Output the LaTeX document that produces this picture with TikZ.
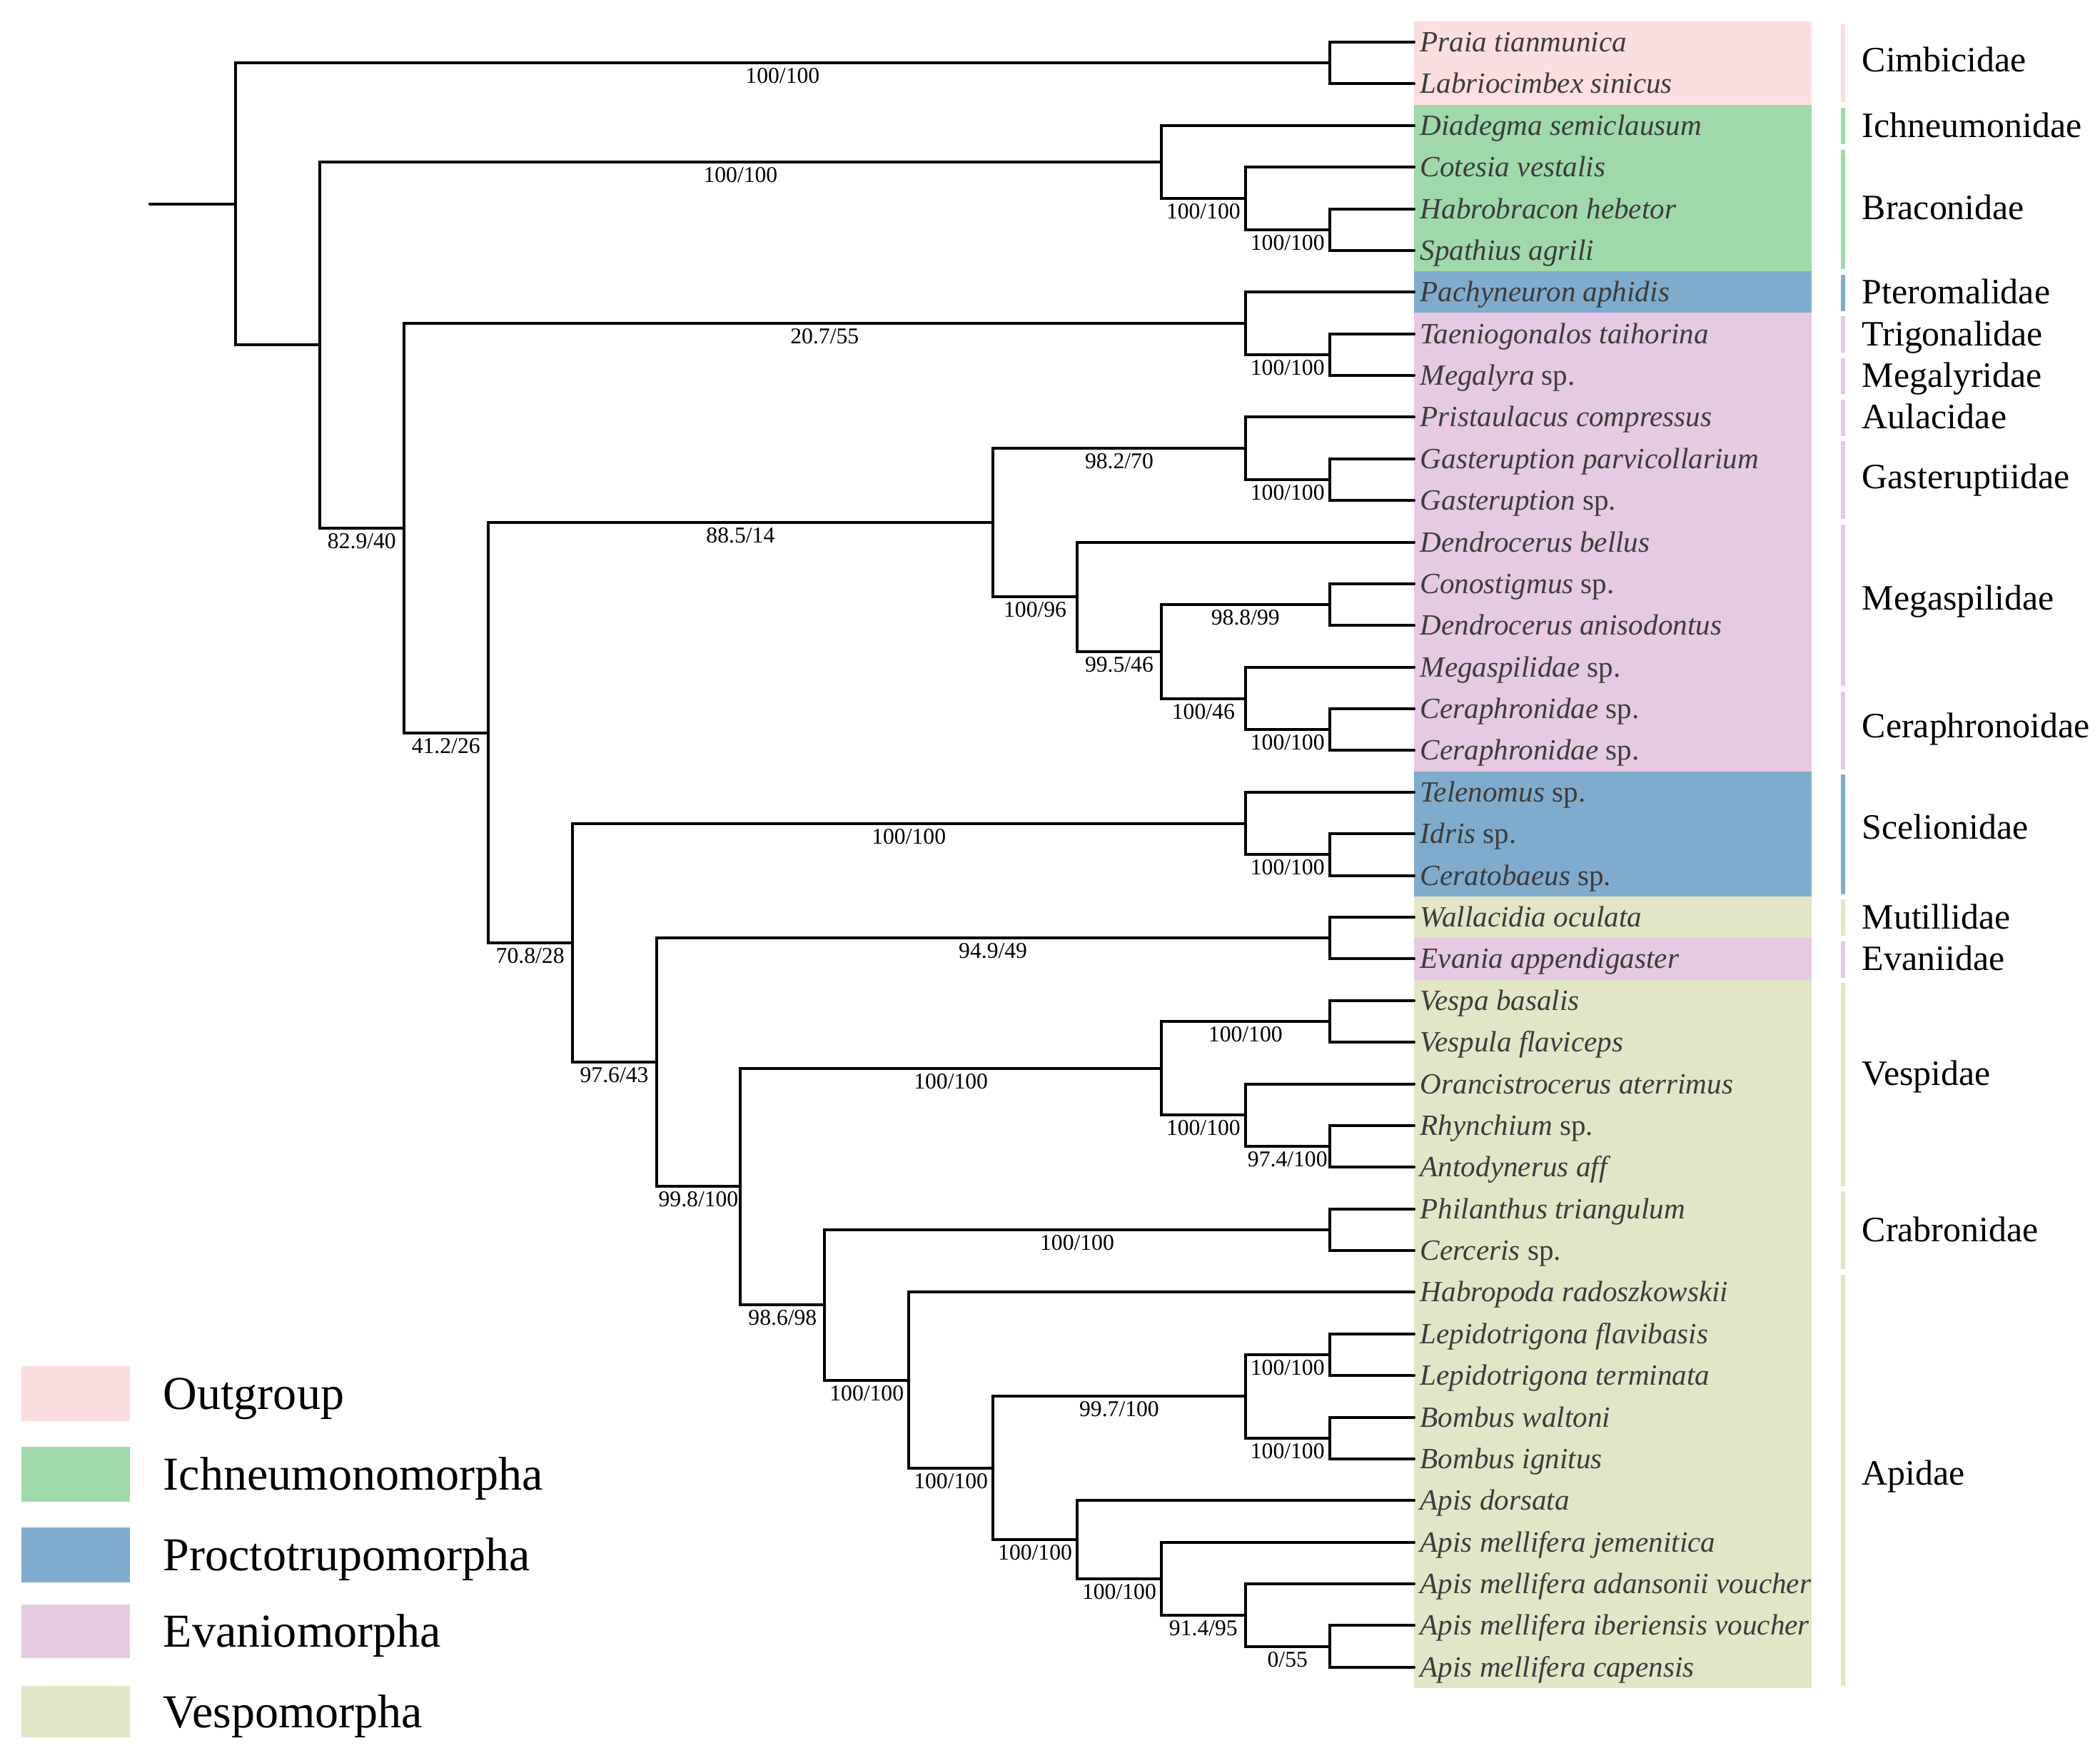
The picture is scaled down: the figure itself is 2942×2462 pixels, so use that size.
\documentclass[tikz,border=0pt]{standalone}
\usepackage{fontspec}
\setmainfont{Liberation Serif}
\usetikzlibrary{calc}
\definecolor{cOut}{HTML}{FCDEE1}
\definecolor{cIch}{HTML}{9FD9AA}
\definecolor{cPro}{HTML}{7FACCC}
\definecolor{cEva}{HTML}{E6C9E2}
\definecolor{cVes}{HTML}{E3E6C6}
\definecolor{cTxt}{HTML}{3C3C3C}
\newcommand\mkpt[3]{\coordinate (#1) at ({330+117.9*(#2)},{59+58.38*(#3)});}
\newcommand\tip[2]{\coordinate (t#1) at (1981,{59+58.38*#1});\node[spn] (n#1) at ($(t#1)+(8,13.5)$) {#2};}
\newcommand\bsup[3]{\node[supp] (s#2) at ($(#1 |- #2)!0.5!(#2)+(0,28.5)$) {#3};}
\newcommand\band[3]{\fill[#1] (1981,{59+58.38*(#2-0.5)}) rectangle (2538,{59+58.38*(#3+0.5)});}
\newcommand\famlbl[6]{\fill[#1] (2579,{59+58.38*(#2-0.42)}) rectangle (2585,{59+58.38*(#3+0.45)});\node[famn] (f#4) at (2608,{59+58.38*((#2+#3)/2)+16.5+#6}) {#5};}
\begin{document}
\begin{tikzpicture}[x=0.01cm,y=-0.01cm,
  spn/.style={anchor=base west,inner sep=0pt,font=\fontsize{11.7}{13}\selectfont\itshape,text=cTxt},
  supp/.style={anchor=base,inner sep=0pt,font=\fontsize{9}{10}\selectfont},
  famn/.style={anchor=base west,inner sep=0pt,font=\fontsize{14.2}{16}\selectfont},
  legn/.style={anchor=base west,inner sep=0pt,font=\fontsize{18.8}{21}\selectfont},
  br/.style={line width=1.14pt,line cap=round}]
\useasboundingbox (0,0) rectangle (2942,2462);
% colour bands
\band{cOut}{0}{1}
\band{cIch}{2}{5}
\band{cPro}{6}{6}
\band{cEva}{7}{17}
\band{cPro}{18}{20}
\band{cVes}{21}{21}
\band{cEva}{22}{22}
\band{cVes}{23}{39}
% internal nodes
\mkpt{R}{0}{3.88421630859375}
\mkpt{Cimb}{13}{0.5}
\mkpt{B}{1}{7.2684326171875}
\mkpt{C}{11}{2.875}
\mkpt{D}{12}{3.75}
\mkpt{E}{13}{4.5}
\mkpt{F}{2}{11.661865234375}
\mkpt{X1}{12}{6.75}
\mkpt{X2}{13}{7.5}
\mkpt{G}{3}{16.57373046875}
\mkpt{H1}{9}{11.53125}
\mkpt{Aul}{12}{9.75}
\mkpt{Gast}{13}{10.5}
\mkpt{Meg}{10}{13.3125}
\mkpt{M2}{11}{14.625}
\mkpt{M3}{13}{13.5}
\mkpt{M4}{12}{15.75}
\mkpt{M5}{13}{16.5}
\mkpt{H}{4}{21.6162109375}
\mkpt{Scel}{12}{18.75}
\mkpt{Sc2}{13}{19.5}
\mkpt{I}{5}{24.482421875}
\mkpt{Mut}{13}{21.5}
\mkpt{J}{6}{27.46484375}
\mkpt{V}{11}{24.625}
\mkpt{V1}{13}{23.5}
\mkpt{V2}{12}{25.75}
\mkpt{V3}{13}{26.5}
\mkpt{K}{7}{30.3046875}
\mkpt{Crab}{13}{28.5}
\mkpt{L}{8}{32.109375}
\mkpt{M}{9}{34.21875}
\mkpt{Ap1}{12}{32.5}
\mkpt{Lep}{13}{31.5}
\mkpt{Bomb}{13}{33.5}
\mkpt{N}{10}{35.9375}
\mkpt{O}{11}{36.875}
\mkpt{P}{12}{37.75}
\mkpt{Q}{13}{38.5}
\coordinate (R0) at (210,{59+58.38*3.88421630859375});
% tips
\tip{0}{Praia tianmunica}
\tip{1}{Labriocimbex sinicus}
\tip{2}{Diadegma semiclausum}
\tip{3}{Cotesia vestalis}
\tip{4}{Habrobracon hebetor}
\tip{5}{Spathius agrili}
\tip{6}{Pachyneuron aphidis}
\tip{7}{Taeniogonalos taihorina}
\tip{8}{Megalyra {\upshape sp.}}
\tip{9}{Pristaulacus compressus}
\tip{10}{Gasteruption parvicollarium}
\tip{11}{Gasteruption {\upshape sp.}}
\tip{12}{Dendrocerus bellus}
\tip{13}{Conostigmus {\upshape sp.}}
\tip{14}{Dendrocerus anisodontus}
\tip{15}{Megaspilidae {\upshape sp.}}
\tip{16}{Ceraphronidae {\upshape sp.}}
\tip{17}{Ceraphronidae {\upshape sp.}}
\tip{18}{Telenomus {\upshape sp.}}
\tip{19}{Idris {\upshape sp.}}
\tip{20}{Ceratobaeus {\upshape sp.}}
\tip{21}{Wallacidia oculata}
\tip{22}{Evania appendigaster}
\tip{23}{Vespa basalis}
\tip{24}{Vespula flaviceps}
\tip{25}{Orancistrocerus aterrimus}
\tip{26}{Rhynchium {\upshape sp.}}
\tip{27}{Antodynerus aff}
\tip{28}{Philanthus triangulum}
\tip{29}{Cerceris {\upshape sp.}}
\tip{30}{Habropoda radoszkowskii}
\tip{31}{Lepidotrigona flavibasis}
\tip{32}{Lepidotrigona terminata}
\tip{33}{Bombus waltoni}
\tip{34}{Bombus ignitus}
\tip{35}{Apis dorsata}
\tip{36}{Apis mellifera jemenitica}
\tip{37}{Apis mellifera adansonii voucher}
\tip{38}{Apis mellifera iberiensis voucher}
\tip{39}{Apis mellifera capensis}
% branches
\draw[br] (R0) -- (R);
\foreach \p/\c in {R/Cimb,R/B,Cimb/t0,Cimb/t1,B/C,B/F,C/t2,C/D,D/t3,D/E,E/t4,E/t5,
  F/X1,F/G,X1/t6,X1/X2,X2/t7,X2/t8,G/H1,G/H,H1/Aul,H1/Meg,Aul/t9,Aul/Gast,Gast/t10,Gast/t11,
  Meg/t12,Meg/M2,M2/M3,M2/M4,M3/t13,M3/t14,M4/t15,M4/M5,M5/t16,M5/t17,
  H/Scel,H/I,Scel/t18,Scel/Sc2,Sc2/t19,Sc2/t20,I/Mut,I/J,Mut/t21,Mut/t22,
  J/V,J/K,V/V1,V/V2,V1/t23,V1/t24,V2/t25,V2/V3,V3/t26,V3/t27,
  K/Crab,K/L,Crab/t28,Crab/t29,L/t30,L/M,M/Ap1,M/N,Ap1/Lep,Ap1/Bomb,Lep/t31,Lep/t32,Bomb/t33,Bomb/t34,
  N/t35,N/O,O/t36,O/P,P/t37,P/Q,Q/t38,Q/t39}
  {\draw[br] (\p) |- (\c);}
% supports
\bsup{R}{Cimb}{100/100}
\bsup{B}{C}{100/100}
\bsup{B}{F}{82.9/40}
\bsup{C}{D}{100/100}
\bsup{D}{E}{100/100}
\bsup{F}{X1}{20.7/55}
\bsup{F}{G}{41.2/26}
\bsup{X1}{X2}{100/100}
\bsup{G}{H1}{88.5/14}
\bsup{G}{H}{70.8/28}
\bsup{H1}{Aul}{98.2/70}
\bsup{H1}{Meg}{100/96}
\bsup{Aul}{Gast}{100/100}
\bsup{Meg}{M2}{99.5/46}
\bsup{M2}{M3}{98.8/99}
\bsup{M2}{M4}{100/46}
\bsup{M4}{M5}{100/100}
\bsup{H}{Scel}{100/100}
\bsup{H}{I}{97.6/43}
\bsup{Scel}{Sc2}{100/100}
\bsup{I}{Mut}{94.9/49}
\bsup{I}{J}{99.8/100}
\bsup{J}{V}{100/100}
\bsup{J}{K}{98.6/98}
\bsup{V}{V1}{100/100}
\bsup{V}{V2}{100/100}
\bsup{V2}{V3}{97.4/100}
\bsup{K}{Crab}{100/100}
\bsup{K}{L}{100/100}
\bsup{L}{M}{100/100}
\bsup{M}{Ap1}{99.7/100}
\bsup{M}{N}{100/100}
\bsup{Ap1}{Lep}{100/100}
\bsup{Ap1}{Bomb}{100/100}
\bsup{N}{O}{100/100}
\bsup{O}{P}{91.4/95}
\bsup{P}{Q}{0/55}
% families
\famlbl{cOut}{0}{1}{1}{Cimbicidae}{-4}
\famlbl{cIch}{2}{2}{2}{Ichneumonidae}{0}
\famlbl{cIch}{3}{5}{3}{Braconidae}{-2}
\famlbl{cPro}{6}{6}{4}{Pteromalidae}{0}
\famlbl{cEva}{7}{7}{5}{Trigonalidae}{0}
\famlbl{cEva}{8}{8}{6}{Megalyridae}{0}
\famlbl{cEva}{9}{9}{7}{Aulacidae}{0}
\famlbl{cEva}{10}{11}{8}{Gasteruptiidae}{-4}
\famlbl{cEva}{12}{15}{9}{Megaspilidae}{-9}
\famlbl{cEva}{16}{17}{10}{Ceraphronoidae}{-5}
\famlbl{cPro}{18}{20}{11}{Scelionidae}{-9}
\famlbl{cVes}{21}{21}{12}{Mutillidae}{0}
\famlbl{cEva}{22}{22}{13}{Evaniidae}{0}
\famlbl{cVes}{23}{27}{14}{Vespidae}{-15}
\famlbl{cVes}{28}{29}{15}{Crabronidae}{0}
\famlbl{cVes}{30}{39}{16}{Apidae}{-9}
% legend
\fill[cOut] (30,1914) rectangle (182,1991);
\fill[cIch] (30,2027) rectangle (182,2104);
\fill[cPro] (30,2140) rectangle (182,2217);
\fill[cEva] (30,2248) rectangle (182,2323);
\fill[cVes] (30,2362) rectangle (182,2434);
\node[legn] (lg1) at (228,1974.5) {Outgroup};
\node[legn] (lg2) at (228,2087.5) {Ichneumonomorpha};
\node[legn] (lg3) at (228,2200.5) {Proctotrupomorpha};
\node[legn] (lg4) at (228,2307.5) {Evaniomorpha};
\node[legn] (lg5) at (228,2420) {Vespomorpha};
\end{tikzpicture}
\end{document}
